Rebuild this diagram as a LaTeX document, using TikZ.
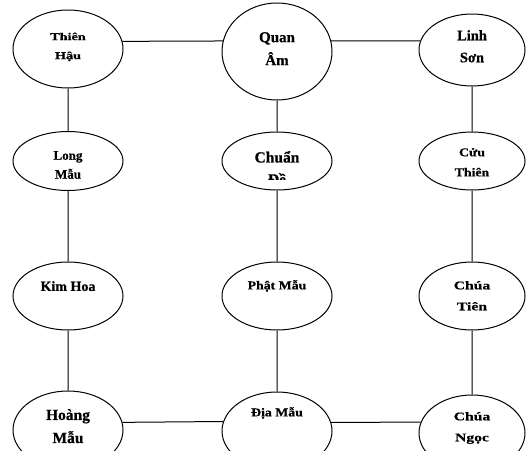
\documentclass[tikz,border=0pt]{standalone}
\usepackage{fontspec}
\setmainfont{Liberation Serif}
\newfontfamily\godN{Liberation Serif Bold}[FakeBold=0.6]
\newfontfamily\godA{Liberation Serif Bold}[FakeStretch=1.15,FakeBold=0.6]
\newfontfamily\godB{Liberation Serif Bold}[FakeStretch=1.35,FakeBold=0.6]
\usetikzlibrary{shapes.geometric}
\newcommand{\fs}[2]{\fontsize{#1}{#2}\selectfont}
\tikzset{
  god/.style={draw, ellipse, line width=1pt, inner sep=0pt},
  lbl/.style={anchor=north, align=center, inner sep=0pt, font=#1},
}

\begin{document}
\begin{tikzpicture}[x=1pt, y=-1pt]
\useasboundingbox (0,0) rectangle (527,450);
\clip (0,0) rectangle (527,450);
% ellipses
\node[god, minimum width=110pt, minimum height=78pt] (th) at (68,49) {};
\node[god, minimum width=110pt, minimum height=97pt] (qa) at (277,51.5) {};
\node[god, minimum width=106pt, minimum height=72pt] (ls) at (472,50) {};
\node[god, minimum width=110pt, minimum height=59pt] (lm) at (68,161) {};
\node[god, minimum width=110pt, minimum height=58pt] (cd) at (277,161) {};
\node[god, minimum width=106pt, minimum height=58pt] (ct) at (472,161) {};
\node[god, minimum width=110pt, minimum height=68pt] (kh) at (68,296) {};
\node[god, minimum width=110pt, minimum height=68pt] (pm) at (277,296) {};
\node[god, minimum width=106pt, minimum height=68pt] (cti) at (472,296) {};
\node[god, minimum width=110pt, minimum height=78pt] (hm) at (68,430) {};
\node[god, minimum width=110pt, minimum height=78pt] (dm) at (277,431) {};
\node[god, minimum width=106pt, minimum height=76pt] (cn) at (472,433) {};
% labels
\node[lbl={\godB\fs{10.5}{19}}] (th-t) at (68,32.5) {Thiên\\Hậu};
\node[lbl={\godN\fs{15}{23}}] (qa-t) at (277,32) {Quan\\Âm};
\node[lbl={\godN\fs{14.5}{22}}] (ls-t) at (472,30) {Linh\\Sơn};
\node[lbl={\godN\fs{13}{19}}] (lm-t) at (68,151) {Long\\Mẫu};
\begin{scope}
\clip (222,130) rectangle (332,179);
\node[lbl={\godN\fs{15.5}{22}}] (cd-t) at (277,151) {Chuẩn\\Đề};
\end{scope}
\node[lbl={\godA\fs{12}{20}}] (ct-t) at (472,148) {Cửu\\Thiên};
\node[lbl={\godN\fs{14}{17}}] (kh-t) at (68,281) {Kim Hoa};
\node[lbl={\godA\fs{12}{16}}] (pm-t) at (277,280) {Phật Mẫu};
\node[lbl={\godB\fs{11.6}{21}}] (cti-t) at (472,281) {Chúa\\Tiên};
\node[lbl={\godN\fs{15.5}{23}}] (hm-t) at (68,409) {Hoàng\\Mẫu};
\node[lbl={\godA\fs{12}{16}}] (dm-t) at (277,407) {Địa Mẫu};
\node[lbl={\godB\fs{11.6}{21}}] (cn-t) at (472,412) {Chúa\\Ngọc};
% connectors
\draw[line width=1pt]
(th.8) -- (qa.169)
(qa.11) -- (ls.170)
(hm.8) -- (dm.170.5)
(dm.9.5) -- (cn.168)
(th.south) -- (lm.north)
(lm.south) -- (kh.north)
(kh.south) -- (hm.north)
(qa.south) -- (cd.north)
(cd.south) -- (pm.north)
(pm.south) -- (dm.north)
(ls.south) -- (ct.north)
(ct.south) -- (cti.north)
(cti.south) -- (cn.north);
\end{tikzpicture}
\end{document}
